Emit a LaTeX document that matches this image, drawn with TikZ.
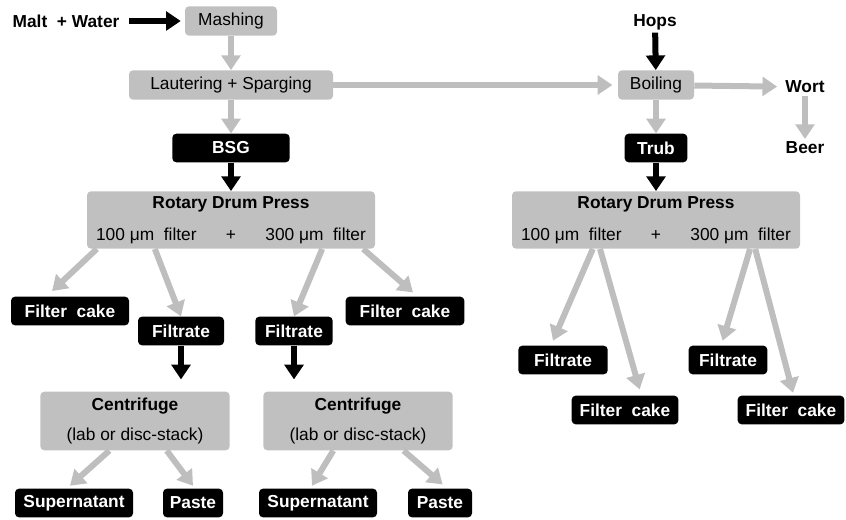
\documentclass[tikz,border=0pt]{standalone}
\usepackage{fontspec}
\setmainfont{Liberation Sans}
\usetikzlibrary{arrows.meta,calc}
\definecolor{boxgray}{RGB}{192,192,192}
\definecolor{flowgray}{RGB}{190,190,190}

\begin{document}
\begin{tikzpicture}[
  x=0.75pt, y=-0.75pt,
  every node/.style={font=\fontsize{13}{15}\selectfont},
  proc/.style={fill=boxgray, rounded corners=3pt, minimum height=22pt, inner sep=2pt},
  prod/.style={fill=black, text=white, rounded corners=3pt, minimum height=21.5pt, inner sep=2pt, font=\fontsize{13}{15}\selectfont\bfseries},
  lbl/.style={font=\fontsize{13}{15}\selectfont\bfseries, inner sep=2pt},
  flow/.style={-{Triangle[width=14pt,length=11pt]}, line width=4.5pt, draw=flowgray},
  feed/.style={-{Triangle[width=14pt,length=11pt]}, line width=4.5pt, draw=black}]

\useasboundingbox (0,0) rectangle (846,520);

% brewing line
\node[lbl] (malt) at (66,21) {Malt \ + Water};
\node[proc, minimum width=69pt] (mash) at (231,21) {Mashing};
\node[proc, minimum width=153pt] (laut) at (231,85) {Lautering + Sparging};
\node[proc, minimum width=57pt] (boil) at (656,85) {Boiling};
\node[lbl] (hops) at (655,22) {Hops};
\node[lbl] (wort) at (805,87) {Wort};
\node[lbl] (beer) at (805,148) {Beer};
\node[prod, minimum width=88pt] (bsg) at (231,148) {BSG};
\node[prod, minimum width=47pt] (trub) at (656,148) {Trub};

% presses
\node[proc, minimum width=216pt, minimum height=43pt, align=center] (rdpL) at (231,220)
  {\textbf{Rotary Drum Press}\\[9pt]100 μm\ \ filter\hspace{22pt}+\hspace{22pt}300 μm\ \ filter};
\node[proc, minimum width=216pt, minimum height=43pt, align=center] (rdpR) at (656,220)
  {\textbf{Rotary Drum Press}\\[9pt]100 μm\ \ filter\hspace{22pt}+\hspace{22pt}300 μm\ \ filter};

% BSG side
\node[prod, minimum width=88.5pt] (cakeL) at (70,311) {Filter\ \ cake};
\node[prod, minimum width=64.5pt] (filtL) at (181,331) {Filtrate};
\node[prod, minimum width=58pt]   (filtM) at (294,331) {Filtrate};
\node[prod, minimum width=89pt]   (cakeM) at (405,311) {Filter\ \ cake};
\node[proc, minimum width=142pt, minimum height=44pt, align=center] (cenL) at (135,421)
  {\textbf{Centrifuge}\\[8pt](lab or disc-stack)};
\node[proc, minimum width=142pt, minimum height=44pt, align=center] (cenR) at (358,421)
  {\textbf{Centrifuge}\\[8pt](lab or disc-stack)};
\node[prod, minimum width=88.5pt] (supL)   at (74,503)  {Supernatant};
\node[prod, minimum width=45pt]   (pasteL) at (193,503) {Paste};
\node[prod, minimum width=88.5pt] (supR)   at (318,503) {Supernatant};
\node[prod, minimum width=48pt]   (pasteR) at (440,503) {Paste};

% trub side
\node[prod, minimum width=67pt] (filtR1) at (563,360) {Filtrate};
\node[prod, minimum width=80pt] (cakeR1) at (625,410) {Filter\ \ cake};
\node[prod, minimum width=59pt] (filtR2) at (728,360) {Filtrate};
\node[prod, minimum width=80pt] (cakeR2) at (791,410) {Filter\ \ cake};

\draw[feed, shorten <=5pt, shorten >=3pt] (malt) -- (mash);
\draw[flow] (mash) -- (laut);
\draw[flow, shorten >=4pt] (laut) -- (boil);
\draw[flow] (laut) -- (bsg);
\draw[feed] (hops) -- (boil);
\draw[flow, shorten >=4pt] (boil) -- (wort);
\draw[flow] (wort) -- (beer);
\draw[flow] (boil) -- (trub);
\draw[feed] (bsg) -- (rdpL);
\draw[feed] (trub) -- (rdpR);

\draw[flow] ($(rdpL.south west)!0.035!(rdpL.south east)$) -- ([xshift=31pt,yshift=4pt]cakeL.north west);
\draw[flow] ($(rdpL.south west)!0.236!(rdpL.south east)$) -- (filtL.north);
\draw[flow] ($(rdpL.south west)!0.816!(rdpL.south east)$) -- (filtM.north);
\draw[flow] ($(rdpL.south west)!0.958!(rdpL.south east)$) -- ([xshift=6pt,yshift=3pt]cakeM.north);
\draw[feed, shorten >=9pt] (filtL.south) -- (filtL.south |- cenL.north);
\draw[feed, shorten >=9pt] (filtM.south) -- (filtM.south |- cenR.north);
\draw[flow] ($(cenL.south west)!0.365!(cenL.south east)$) -- ([xshift=-3pt,yshift=2pt]supL.north);
\draw[flow] ($(cenL.south west)!0.667!(cenL.south east)$) -- ([yshift=2pt]pasteL.north);
\draw[flow] ($(cenR.south west)!0.37!(cenR.south east)$) -- ([xshift=-4.5pt,yshift=2pt]supR.north);
\draw[flow] ($(cenR.south west)!0.74!(cenR.south east)$) -- ([xshift=2pt,yshift=3pt]pasteR.north);

\draw[flow] ($(rdpR.south west)!0.281!(rdpR.south east)$) -- ([xshift=-7.5pt,yshift=3.5pt]filtR1.north);
\draw[flow] ($(rdpR.south west)!0.306!(rdpR.south east)$) -- ([xshift=11pt,yshift=4.5pt]cakeR1.north);
\draw[flow] ($(rdpR.south west)!0.826!(rdpR.south east)$) -- ([xshift=-4pt,yshift=3.5pt]filtR2.north);
\draw[flow] ($(rdpR.south west)!0.844!(rdpR.south east)$) -- ([xshift=1.5pt,yshift=2pt]cakeR2.north);
\end{tikzpicture}
\end{document}
